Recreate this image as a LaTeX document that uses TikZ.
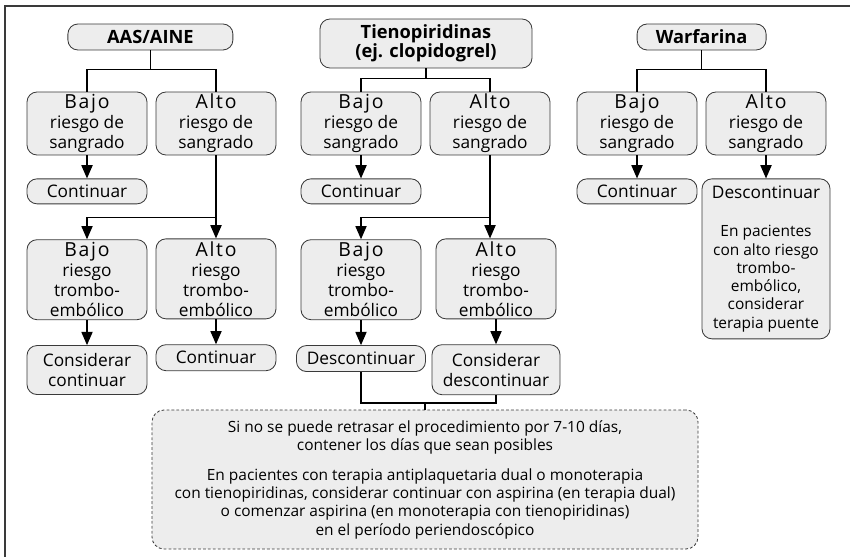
\documentclass[tikz,border=0pt]{standalone}
\usepackage{fontspec}
\setmainfont{Open Sans}
\newfontfamily\spacedfont[LetterSpace=9]{Open Sans}
\usepackage{tikz}
\usetikzlibrary{positioning, arrows.meta, calc}
\usepackage{xcolor}
\definecolor{boxgray}{HTML}{EDEDED}
\definecolor{linegray}{HTML}{3A3A3A}
\newcommand{\boxfont}{\fontsize{12.3pt}{14.2pt}\selectfont}
\newcommand{\notefont}{\fontsize{11pt}{13pt}\selectfont}
\newcommand{\headfont}{\fontsize{13pt}{13.5pt}\selectfont\bfseries}
\newcommand{\riskword}[1]{{\spacedfont\fontsize{13.8pt}{14.2pt}\selectfont #1}}

\begin{document}
\begin{tikzpicture}[font=\boxfont,
  box/.style={draw=linegray, line width=0.6pt, rounded corners=0.25cm, fill=boxgray, minimum width=3cm, align=center, inner sep=1pt},
  head/.style={box, font=\headfont},
  arr/.style={-{Triangle[length=0.33cm, width=0.28cm]}, line width=0.8pt},
  link/.style={line width=0.8pt}]
\useasboundingbox (0,0) rectangle (21.25,-13.925);
\draw[line width=0.8pt, linegray] (0.125,-13.925) -- (0.125,-0.15) -- (21.25,-0.15);

% AAS/AINE
\node[head, minimum width=4.125cm, minimum height=0.65cm] (aas) at (3.76,-0.925) {AAS/AINE};
\node[box, minimum height=1.575cm] (aasbajo) at (2.175,-3.0875) {\riskword{Bajo}\\riesgo de\\sangrado};
\node[box, minimum height=1.575cm] (aasalto) at (5.4,-3.0875) {\riskword{Alto}\\riesgo de\\sangrado};
\node[box, minimum height=0.625cm, below=0.575cm of aasbajo] (aascont) {Continuar};
\node[box, minimum height=2cm, below=0.875cm of aascont] (aastbajo) {\riskword{Bajo}\\riesgo\\trombo-\\embólico};
\node[box, minimum height=2cm, below=2.075cm of aasalto] (aastalto) {\riskword{Alto}\\riesgo\\trombo-\\embólico};
\node[box, minimum height=1.225cm, below=0.625cm of aastbajo] (aasconsid) {Considerar\\continuar};
\node[box, minimum height=0.65cm, below=0.625cm of aastalto] (aascont2) {Continuar};

\draw[link] (aasbajo.north) -- ++(0,0.55) -| (aas.south);
\draw[link] (aasalto.north) -- ++(0,0.55) -| (aas.south);
\coordinate (aassplit) at ($(aasalto.south)+(0,-1.55)$);
\draw[arr] (aasbajo) -- (aascont);
\draw[arr] (aasalto) -- (aastalto);
\draw[arr] (aassplit) -| (aastbajo.north);
\draw[arr] (aastbajo) -- (aasconsid);
\draw[arr] (aastalto) -- (aascont2);

% Tienopiridinas
\node[head, minimum width=5.3cm, minimum height=1.225cm] (tieno) at (10.65,-1.0875) {Tienopiridinas\\(ej. clopidogrel)};
\node[box, minimum height=1.575cm] (tienobajo) at (9.025,-3.0875) {\riskword{Bajo}\\riesgo de\\sangrado};
\node[box, minimum height=1.575cm] (tienoalto) at (12.25,-3.0875) {\riskword{Alto}\\riesgo de\\sangrado};
\node[box, minimum height=0.625cm, below=0.575cm of tienobajo] (tienocont) {Continuar};
\node[box, minimum height=2cm, below=0.875cm of tienocont] (tienotbajo) {\riskword{Bajo}\\riesgo\\trombo-\\embólico};
\node[box, minimum height=2cm, below=2.075cm of tienoalto, xshift=0.15cm] (tienotalto) {\riskword{Alto}\\riesgo\\trombo-\\embólico};
\node[box, minimum width=3.225cm, minimum height=0.65cm, below=0.625cm of tienotbajo] (tienodesc) {Descontinuar};
\node[box, minimum width=3.2cm, minimum height=1.25cm, below=0.625cm of tienotalto] (tienocdesc) {Considerar\\descontinuar};

\draw[link] (tienobajo.north) -- ++(0,0.325) -| (tieno.south);
\draw[link] (tienoalto.north) -- ++(0,0.325) -| (tieno.south);
\coordinate (tienosplit) at ($(tienoalto.south)+(0,-1.55)$);
\draw[arr] (tienobajo) -- (tienocont);
\draw[arr] (tienoalto.south) -- (tienoalto.south |- tienotalto.north);
\draw[arr] (tienosplit) -| (tienotbajo.north);
\draw[arr] (tienotbajo) -- (tienodesc);
\draw[arr] (tienotalto) -- (tienocdesc);

% Warfarina
\node[head, minimum width=3.225cm, minimum height=0.65cm] (war) at (17.54,-0.925) {Warfarina};
\node[box, minimum height=1.575cm] (warbajo) at (15.925,-3.0875) {\riskword{Bajo}\\riesgo de\\sangrado};
\node[box, minimum height=1.575cm] (waralto) at (19.15,-3.0875) {\riskword{Alto}\\riesgo de\\sangrado};
\node[box, minimum height=0.625cm, below=0.575cm of warbajo] (warcont) {Continuar};
\node[box, minimum width=3.2cm, minimum height=4cm, below=0.575cm of waralto, font=\notefont] (wardesc)
  {{\boxfont Descontinuar}\\[0.5cm]En pacientes\\con alto riesgo\\trombo-\\embólico,\\considerar\\terapia puente};

\draw[link] (warbajo.north) -- ++(0,0.55) -| (war.south);
\draw[link] (waralto.north) -- ++(0,0.55) -| (war.south);
\draw[arr] (warbajo) -- (warcont);
\draw[arr] (waralto) -- (wardesc);

% nota comun
\node[box, dash pattern=on 2pt off 1.5pt, rounded corners=0.3cm, minimum width=13.65cm, minimum height=3.475cm, font=\notefont] (nota) at (10.625,-11.9875)
  {Si no se puede retrasar el procedimiento por 7-10 días,\\contener los días que sean posibles\\[0.29cm]
   En pacientes con terapia antiplaquetaria dual o monoterapia\\con tienopiridinas, considerar continuar con aspirina (en terapia dual)\\o comenzar aspirina (en monoterapia con tienopiridinas)\\en el período periendoscópico};
\coordinate (tienojoin) at ($(tienodesc.south)+(0,-0.775)$);
\draw[link] (tienodesc.south) -- (tienojoin) -| (tienocdesc.south);
\draw[link] (nota.north) -- (nota.north |- tienojoin);
\end{tikzpicture}
\end{document}
